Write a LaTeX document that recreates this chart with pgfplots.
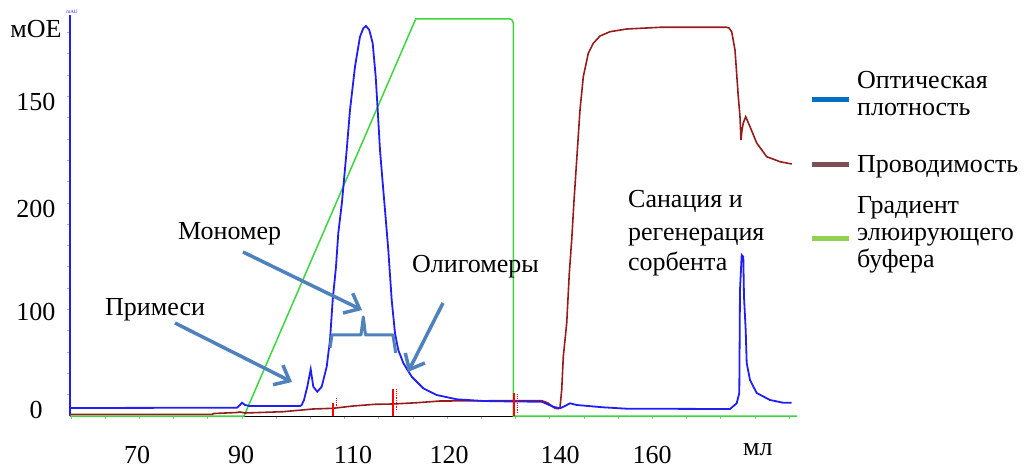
\documentclass[border=0pt]{standalone}
\usepackage{fontspec}
\setmainfont{Liberation Serif}
\usepackage{pgfplots}
\pgfplotsset{compat=1.18}
\usetikzlibrary{arrows.meta}
\definecolor{odblue}{RGB}{30,30,245}
\definecolor{condbrown}{RGB}{150,28,28}
\definecolor{gradgreen}{RGB}{60,215,60}
\definecolor{legblue}{RGB}{0,112,192}
\definecolor{legbrown}{RGB}{124,80,85}
\definecolor{leggreen}{RGB}{146,208,80}
\definecolor{arrowblue}{RGB}{79,129,189}
\definecolor{tickgray}{RGB}{150,180,215}
\newcommand{\bigf}{\fontsize{26bp}{31bp}\selectfont}
\begin{document}
\begin{tikzpicture}
\path[use as bounding box] (0,0) rectangle (1031bp,468bp);
\begin{axis}[
  x=1bp, y=1bp,
  at={(70bp,52bp)}, anchor=south west,
  xmin=70, xmax=797, ymin=0, ymax=401,
  axis x line*=bottom, axis y line*=left,
  x axis line style={black, line width=0.8bp},
  y axis line style={odblue, line width=1.6bp},
  clip=false,
  xtick={137,241,353,449,560,652},
  xticklabels={70,90,110,120,140,160},
  ytick={6,104,207,314,387},
  yticklabels={0,100,200,150,мОЕ},
  major tick length=0pt,
  minor tick length=3bp,
  tick align=outside,
  minor xtick={71,105.2,...,795},
  minor ytick={21.3,42.6,...,400},
  minor tick style={tickgray, line width=0.8bp},
  tick label style={font=\bigf, inner sep=0pt},
  xticklabel style={anchor=base, yshift=-47bp},
  yticklabel style={anchor=center, xshift=-34bp},
  /pgf/number format/assume math mode=true,
  legend style={at={(axis description cs:1.0165,0.8776)}, anchor=north west,
    draw=none, fill=none, inner sep=0pt, row sep=14bp, column sep=6bp,
    font=\fontsize{26bp}{27bp}\selectfont, nodes={inner sep=0pt, text depth=}},
  legend cell align=left,
  legend image code/.code={\draw[#1, line width=5bp] (0bp,0bp) -- (37bp,0bp);},
]
% gradient of elution buffer
\addplot[gradgreen, line width=1.5bp, forget plot] coordinates {
(70,0) (244,0) (415.7,397) (510,397) (512,396) (513.3,393) (513.3,0) (797,0)};
% conductivity
\addplot[condbrown, line width=1.6bp, forget plot] coordinates {
(70,1.7) (212,1.7) (214,2.5) (237,3.5) (240,4) (245,3) (283,4.3) (313,7) (333,7.7)
(353,10) (375,11.7) (393,12) (417,13.3) (440,15) (513,15.3) (541.7,15.3) (548,13)
(555,7.7) (558,7.3) (560,8.7) (561.7,26) (563.3,59.3) (566.7,92.7) (569.3,142.7)
(571.7,176) (574,215) (576.7,256) (580,306) (583.3,339.3) (588.3,362.7) (593.3,372.7)
(600,380) (610,384.3) (626.7,387) (660,388.7) (726.7,388.7) (729,388) (731.7,384.3)
(735,366) (738.3,319.3) (740,299.3) (741,276) (742,286) (743.3,293) (745.7,299.3)
(750,289.3) (756.7,273) (766.7,259.3) (780,254.3) (791.7,252)};
% optical density
\addplot[odblue, line width=1.8bp, forget plot] coordinates {
(70,8) (237,8.3) (240,11) (242,13.3) (245,11) (250,10) (300,10) (301.7,11) (304,16)
(307.3,29.3) (310.7,46.7) (313.3,29.3) (317.3,24.3) (321.7,29.3) (326.7,49.3) (330,76)
(332.7,116) (336,149.3) (338.3,183) (342,214) (346.7,266) (350,306) (355,349.3)
(360,379.3) (363.3,387.7) (366,390) (369.3,386) (372.7,372.7) (375.7,339.3) (377.7,306)
(380,266) (382.7,233) (385,206) (388.3,166) (391.7,116) (395,82.7) (398.3,66)
(403.3,53) (411.7,39.3) (423.3,27.7) (436.7,21) (456.7,16.7) (483.3,15) (513,14.5)
(541.7,14.3) (547,12) (553,9.3) (560,7.7) (565,10) (570,12.7) (576.7,11) (603,8.7)
(626.7,7.3) (730,7) (736.7,12.7) (739.3,23) (740,126) (741.7,161) (743.3,159.3)
(744,119.3) (745.7,86) (746.7,53) (750,36) (756.7,23) (770,16) (783,13.3) (791.7,13.3)};
% fraction markers
\addplot[red, line width=1.2bp, forget plot] coordinates {(333,0) (333,13)};
\addplot[red, line width=1.2bp, forget plot] coordinates {(393,0) (393,27)};
\addplot[red, line width=1.2bp, forget plot] coordinates {(514,0) (514,23)};
\addplot[red, line width=0.8bp, densely dotted, forget plot] coordinates {(336,8) (336,18)};
\addplot[red, line width=0.8bp, densely dotted, forget plot] coordinates {(396,6) (396,27)};
\addplot[red, line width=0.8bp, densely dotted, forget plot] coordinates {(517,3) (517,22)};
% legend
\addlegendimage{legblue}
\addlegendentry{\begin{tabular}{@{}l@{}}\rule{0pt}{23.9bp}Оптическая\\плотность\rule[-19.9bp]{0pt}{1bp}\end{tabular}}
\addlegendimage{legbrown}
\addlegendentry{\begin{tabular}{@{}l@{}}\rule{0pt}{23.1bp}Проводимость\end{tabular}}
\addlegendimage{leggreen}
\addlegendentry{\begin{tabular}{@{}l@{}}Градиент\\элюирующего\\буфера\rule[-15.9bp]{0pt}{1bp}\end{tabular}}
% annotations
\node[anchor=base west, font=\bigf, inner sep=0pt] at (axis cs:178,177) {Мономер};
\node[anchor=base west, font=\bigf, inner sep=0pt] at (axis cs:105,101) {Примеси};
\node[anchor=base west, font=\bigf, inner sep=0pt] at (axis cs:412,144) {Олигомеры};
\node[anchor=base west, font=\bigf, inner sep=0pt] at (axis cs:628,209) {Санация и};
\node[anchor=base west, font=\bigf, inner sep=0pt] at (axis cs:628,176) {регенерация};
\node[anchor=base west, font=\bigf, inner sep=0pt] at (axis cs:628,146) {сорбента};
\node[anchor=base west, font=\bigf, inner sep=0pt] at (axis cs:743,-39) {мл};
\node[anchor=south, font=\fontsize{5bp}{6bp}\selectfont, text=odblue, inner sep=0pt] at (axis cs:72,402) {mAU};
\draw[arrowblue, line width=3.5bp, -{Straight Barb[length=13bp, width=22bp]}] (axis cs:243,164) -- (axis cs:362,106);
\draw[arrowblue, line width=3.5bp, -{Straight Barb[length=13bp, width=22bp]}] (axis cs:175,93) -- (axis cs:292,34);
\draw[arrowblue, line width=3.5bp, -{Straight Barb[length=13bp, width=22bp]}] (axis cs:443,113) -- (axis cs:408,44);
\draw[arrowblue, line width=3bp, line join=round] (axis cs:330,68) -- (axis cs:332,81) -- (axis cs:361,81) -- (axis cs:363.3,99) -- (axis cs:365.5,81) -- (axis cs:393,81) -- (axis cs:395.7,63);
\end{axis}
\end{tikzpicture}
\end{document}
